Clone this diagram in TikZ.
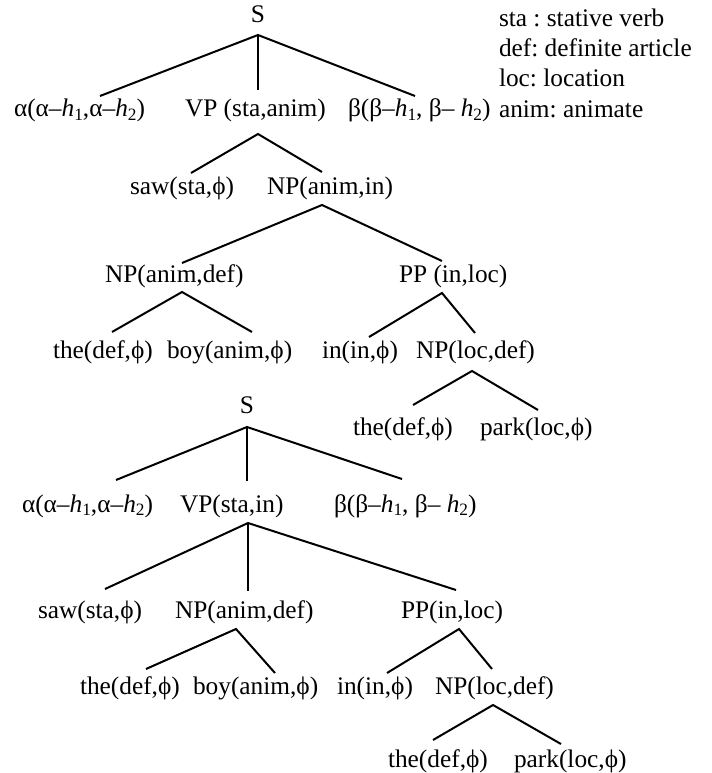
\documentclass[tikz,border=0pt]{standalone}
\usepackage{fontspec}
\setmainfont{Liberation Serif}
\frenchspacing
\newcommand\sbs[1]{\raisebox{-0.3ex}{\fontsize{13}{13}\selectfont #1}}
\newcommand\hh[1]{\textit{h}\sbs{#1}}
\tikzset{
  lbl/.style={anchor=base west, inner sep=0pt, outer sep=0pt},
  lblc/.style={anchor=base, inner sep=0pt, outer sep=0pt},
  edge/.style={line width=1.5pt, line cap=butt}
}
\begin{document}
\begin{tikzpicture}[x=0.75pt,y=-0.75pt,font=\fontsize{19}{23}\selectfont]
\useasboundingbox (0,0) rectangle (712,773);
% ---------- top tree ----------
\node[lblc] (s1) at (258,23) {S};
\node[lbl] (leg1) at (499,26.5) {sta : stative verb};
\node[lbl] (leg2) at (499,57) {def: definite article};
\node[lbl] (leg3) at (499,87) {loc: location};
\node[lbl] (leg4) at (499,117.5) {anim: animate};
\node[lbl] (al1) at (14,117) {α(α–\hh{1},α–\hh{2})};
\node[lbl] (vp1) at (185,117) {VP (sta,anim)};
\node[lbl] (be1) at (348,117) {β(β–\hh{1}, β– \hh{2})};
\node[lbl] (saw1) at (130,195) {saw(sta,ϕ)};
\node[lbl] (npai) at (267,195) {NP(anim,in)};
\node[lbl] (npad1) at (105,282) {NP(anim,def)};
\node[lbl] (pp1) at (399,282) {PP (in,loc)};
\node[lbl] (the1) at (53,358) {the(def,ϕ)};
\node[lbl] (boy1) at (167,358) {boy(anim,ϕ)};
\node[lbl] (in1) at (322,358) {in(in,ϕ)};
\node[lbl] (npld1) at (416,358) {NP(loc,def)};
\node[lbl] (thep1) at (353,435) {the(def,ϕ)};
\node[lbl] (park1) at (480,435) {park(loc,ϕ)};
% connector points
\coordinate (s1-b) at (258,35);
\coordinate (al1-t) at (100,96);
\coordinate (vp1-t) at (258,90);
\coordinate (be1-t) at (415,96);
\coordinate (vp1-b) at (258,134);
\coordinate (saw1-t) at (191,173);
\coordinate (npai-t) at (322,172);
\coordinate (npai-b) at (322,205);
\coordinate (npad1-t) at (182,263);
\coordinate (pp1-t) at (442,261);
\coordinate (npad1-b) at (182,292);
\coordinate (the1-t) at (112,332);
\coordinate (boy1-t) at (252,332);
\coordinate (pp1-b) at (442,293);
\coordinate (in1-t) at (369,337);
\coordinate (npld1-t) at (475,333);
\coordinate (npld1-b) at (472,371);
\coordinate (thep1-t) at (413,405);
\coordinate (park1-t) at (538,410);
\draw[edge] (al1-t) -- (s1-b) -- (be1-t);
\draw[edge] (s1-b) -- (vp1-t);
\draw[edge] (saw1-t) -- (vp1-b) -- (npai-t);
\draw[edge] (npad1-t) -- (npai-b) -- (pp1-t);
\draw[edge] (the1-t) -- (npad1-b) -- (boy1-t);
\draw[edge] (in1-t) -- (pp1-b) -- (npld1-t);
\draw[edge] (thep1-t) -- (npld1-b) -- (park1-t);
% ---------- bottom tree ----------
\node[lblc] (s2) at (247,413) {S};
\node[lbl] (al2) at (22,512) {α(α–\hh{1},α–\hh{2})};
\node[lbl] (vp2) at (180,512) {VP(sta,in)};
\node[lbl] (be2) at (334,512) {β(β–\hh{1}, β– \hh{2})};
\node[lbl] (saw2) at (38,618) {saw(sta,ϕ)};
\node[lbl] (npad2) at (175,618) {NP(anim,def)};
\node[lbl] (pp2) at (401,618) {PP(in,loc)};
\node[lbl] (the2) at (80,694) {the(def,ϕ)};
\node[lbl] (boy2) at (193,694) {boy(anim,ϕ)};
\node[lbl] (in2) at (337,694) {in(in,ϕ)};
\node[lbl] (npld2) at (435,694) {NP(loc,def)};
\node[lbl] (thep2) at (388,767) {the(def,ϕ)};
\node[lbl] (park2) at (514,767) {park(loc,ϕ)};
\coordinate (s2-b) at (247,427);
\coordinate (al2-t) at (116,480);
\coordinate (vp2-t) at (247,481);
\coordinate (be2-t) at (402,479);
\coordinate (vp2-b) at (248,523);
\coordinate (saw2-t) at (105,589);
\coordinate (npad2-t) at (248,591);
\coordinate (pp2-t) at (456,590);
\coordinate (npad2-b) at (236,629);
\coordinate (the2-t) at (146,669);
\coordinate (boy2-t) at (275,673);
\coordinate (pp2-b) at (459,629);
\coordinate (in2-t) at (387,673);
\coordinate (npld2-t) at (492,669);
\coordinate (npld2-b) at (493,705);
\coordinate (thep2-t) at (433,740);
\coordinate (park2-t) at (561,744);
\draw[edge] (al2-t) -- (s2-b) -- (be2-t);
\draw[edge] (s2-b) -- (vp2-t);
\draw[edge] (saw2-t) -- (vp2-b) -- (pp2-t);
\draw[edge] (vp2-b) -- (npad2-t);
\draw[edge] (the2-t) -- (npad2-b) -- (boy2-t);
\draw[edge] (in2-t) -- (pp2-b) -- (npld2-t);
\draw[edge] (thep2-t) -- (npld2-b) -- (park2-t);
\end{tikzpicture}
\end{document}
